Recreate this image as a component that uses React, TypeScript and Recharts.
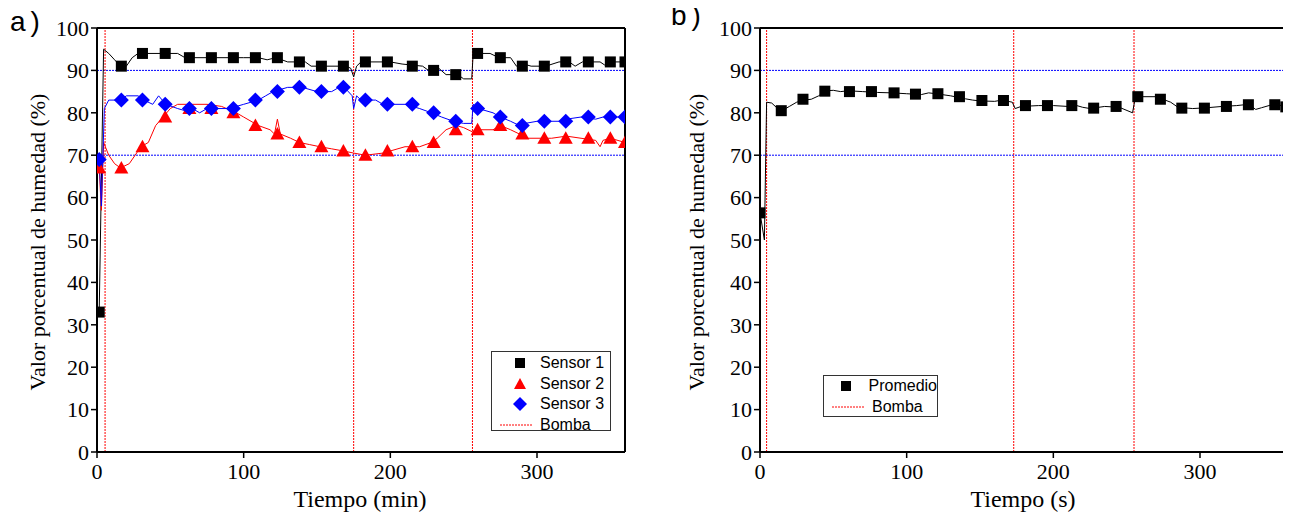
import React from "react";
import { ComposedChart, Line, Scatter, XAxis, YAxis, ReferenceLine } from "recharts";

// ejes
const ticksX = [0, 100, 200, 300];
const ticksY = [0, 10, 20, 30, 40, 50, 60, 70, 80, 90, 100];
const limites = [70, 90];

// encendido de la bomba
const bombaA = [5.5, 175, 256];
const bombaB = [4.5, 173, 255];

// a) marcadores de cada sensor
const tiempoMarcasA = [1.5, 16.6, 31, 46.5, 63, 78, 93, 108, 123, 138, 153, 168, 183, 198, 215, 229.5, 244.6, 259.5, 275, 290, 305, 319.6, 335, 350, 360];
const sensor1Marcas = [33, 91, 94, 94, 93, 93, 93, 93, 93, 92, 91, 91, 92, 92, 91, 90, 89, 94, 93, 91, 91, 92, 92, 92, 92];
const sensor2Marcas = [67, 67, 72, 79, 81, 81, 80, 77, 75, 73, 72, 71, 70, 71, 72, 73, 76, 76, 77, 75, 74, 74, 74, 74, 73];
const sensor3Marcas = [69, 83, 83, 82, 81, 81, 81, 83, 85, 86, 85, 86, 83, 82, 82, 80, 78, 81, 79, 77, 78, 78, 79, 79, 79];

// a) lecturas continuas [t, valor]
const sensor1Linea: [number, number][] = [
  [1.5, 33], [4.5, 95], [8, 94], [12, 92.5], [16, 91], [20, 91], [24, 93], [28, 94], [45, 94], [55, 94],
  [60, 93], [100, 93], [110, 93], [116, 92.5], [122, 93], [130, 92], [142, 92], [146, 91], [170, 91],
  [173, 90.5], [175, 88.5], [177, 91], [180, 92], [200, 92], [208, 91.5], [222, 91], [226, 90], [233, 90.5],
  [238, 89], [246, 89], [250, 88], [255.5, 88], [256.5, 94], [268, 94], [274, 93], [282, 93], [286, 91],
  [291, 91.5], [296, 91], [306, 91], [315, 92], [322, 92], [326, 91], [331, 92], [343, 92], [346, 91.3],
  [350, 92], [360, 92],
];
const sensor2Linea: [number, number][] = [
  [1.5, 67], [3, 57], [4.5, 73], [8, 70], [12, 68], [16, 67], [22, 68], [26, 70], [30, 72], [35, 73],
  [40, 77], [45, 79], [50, 81], [55, 82], [75, 82], [85, 81.5], [95, 80], [100, 79], [105, 78], [110, 77],
  [118, 76], [121, 75], [123, 78.5], [125, 75], [132, 74], [138, 73], [145, 72.5], [152, 72], [160, 71.5],
  [168, 71], [175, 70.5], [183, 70], [195, 70.5], [200, 71], [210, 72], [220, 72], [228, 73], [232, 74],
  [238, 76], [245, 77], [250, 76.5], [256, 75.5], [258, 76], [270, 76], [275, 77], [282, 76], [288, 75],
  [292, 74], [300, 74], [310, 74], [320, 74.5], [330, 74], [340, 73.5], [343, 72], [345, 73.5], [350, 74],
  [360, 73],
];
const sensor3Linea: [number, number][] = [
  [1.5, 69], [3, 58], [5, 81], [8, 83], [16, 83], [20, 84], [28, 84], [32, 83], [38, 82], [42, 84],
  [47, 82], [55, 81], [60, 80.5], [65, 81], [70, 80], [75, 81], [90, 81], [100, 82], [110, 83], [115, 84],
  [120, 85], [130, 86], [140, 86], [150, 85], [160, 85], [165, 86], [170, 85.5], [174, 84], [175, 81],
  [177, 84], [180, 83], [190, 83], [195, 82], [210, 82], [220, 81], [228, 80], [235, 79], [243, 78],
  [250, 77.5], [255.5, 77.5], [256.5, 82], [260, 81], [270, 80], [275, 79], [282, 78], [288, 77],
  [292, 77.5], [300, 78], [315, 78], [320, 78.5], [330, 79], [340, 78.5], [345, 79], [360, 79],
];

// b) promedio
const tiempoMarcasB = [0, 14.5, 29.3, 44.2, 61, 76, 91.4, 106, 121.3, 136, 151.3, 166, 181, 196, 212.6, 227.5, 242.8, 257.6, 273, 287.6, 303, 318, 333, 351, 358.5];
const promedioMarcas = [56.4, 80.5, 83.2, 85.1, 85, 85, 84.7, 84.4, 84.5, 83.8, 82.9, 82.9, 81.7, 81.7, 81.7, 81.1, 81.5, 83.8, 83.2, 81.1, 81.1, 81.5, 81.9, 81.9, 81.4];
const promedioLinea: [number, number][] = [
  [0, 56.4], [3, 50], [4.5, 82.5], [8, 82.3], [12, 81], [15, 80.5], [20, 81.5], [25, 82.5], [30, 83],
  [35, 83.2], [40, 84], [45, 85.2], [50, 85.3], [55, 85], [60, 85.2], [70, 85], [80, 84.8], [90, 84.7],
  [100, 84.5], [110, 84.3], [115, 84.7], [120, 84.5], [130, 84], [140, 83.3], [145, 83], [150, 82.8],
  [160, 82.7], [165, 83], [172, 82.5], [174, 81], [178, 81.5], [190, 81.7], [200, 81.7], [210, 81.5],
  [215, 81.8], [220, 81.3], [225, 81], [235, 81.5], [245, 81.3], [254, 80], [256, 83.8], [270, 83.8],
  [280, 82.5], [285, 81.3], [295, 81], [305, 81.2], [315, 81.5], [325, 81.7], [333, 82], [338, 80.8],
  [342, 81.2], [350, 82], [360, 81.5],
];

const ROJO = "#ff0000";
const AZUL = "#0000ff";
const serif = "'Liberation Serif', 'Times New Roman', serif";
const sans = "'Liberation Sans', Arial, sans-serif";

const puntos = (pares: [number, number][]) => pares.map(([t, v]) => ({ t, v }));
const marcas = (ts: number[], vs: number[]) => ts.map((t, i) => ({ t, v: vs[i] }));

const cuadrado = (p: any) => <rect x={p.cx - 5.5} y={p.cy - 5.5} width={11} height={11} fill="#000" />;
const triangulo = (p: any) => (
  <polygon points={`${p.cx},${p.cy - 7} ${p.cx + 7},${p.cy + 5.5} ${p.cx - 7},${p.cy + 5.5}`} fill={ROJO} />
);
const rombo = (p: any) => (
  <polygon points={`${p.cx},${p.cy - 7.5} ${p.cx + 7.5},${p.cy} ${p.cx},${p.cy + 7.5} ${p.cx - 7.5},${p.cy}`} fill={AZUL} />
);

const tickStyle = { fill: "#000", fontSize: 22, fontFamily: serif };

function Panel({ bomba, children }: { bomba: number[]; children: React.ReactNode }) {
  return (
    <ComposedChart width={645} height={529} margin={{ top: 28, right: 20, bottom: 47, left: 57 }}>
      <XAxis
        dataKey="t"
        type="number"
        domain={[0, 360]}
        ticks={ticksX}
        allowDataOverflow
        height={30}
        tickSize={6}
        tickMargin={5}
        stroke="#000"
        axisLine={{ strokeWidth: 2 }}
        tickLine={{ strokeWidth: 1.5 }}
        tick={tickStyle}
      />
      <XAxis xAxisId="top" orientation="top" mirror type="number" domain={[0, 360]} ticks={ticksX}
        tick={false} tickSize={4} stroke="#000" axisLine={{ strokeWidth: 2 }} />
      <YAxis
        type="number"
        domain={[0, 100]}
        ticks={ticksY}
        allowDataOverflow
        width={40}
        tickSize={6}
        tickMargin={2}
        stroke="#000"
        axisLine={{ strokeWidth: 2 }}
        tickLine={{ strokeWidth: 1.5 }}
        tick={tickStyle}
      />
      <YAxis yAxisId="r" orientation="right" mirror type="number" domain={[0, 100]} ticks={ticksY}
        tick={false} tickSize={4} stroke="#000" axisLine={{ strokeWidth: 2 }} />
      {limites.map((y) => (
        <ReferenceLine key={"h" + y} y={y} stroke={AZUL} strokeDasharray="2 1" strokeWidth={1} />
      ))}
      {bomba.map((x) => (
        <ReferenceLine key={"v" + x} x={x} stroke={ROJO} strokeDasharray="2 1" strokeWidth={1} />
      ))}
      {children}
    </ComposedChart>
  );
}

function TituloY({ x }: { x: number }) {
  return (
    <div style={{ position: "absolute", left: x - 200, top: 242 - 12, width: 400, height: 24, lineHeight: "24px",
      textAlign: "center", transform: "rotate(-90deg)", fontFamily: serif, fontSize: 22 }}>
      Valor porcentual de humedad (%)
    </div>
  );
}

function TituloX({ x, texto }: { x: number; texto: string }) {
  return (
    <div style={{ position: "absolute", left: x - 150, top: 485, width: 300, lineHeight: "28px",
      textAlign: "center", fontFamily: serif, fontSize: 24 }}>
      {texto}
    </div>
  );
}

function FilaLeyenda({ simbolo, texto }: { simbolo: React.ReactNode; texto: string }) {
  return (
    <div style={{ display: "flex", alignItems: "center", height: 20.5 }}>
      <svg width={46} height={20}>{simbolo}</svg>
      <span style={{ marginLeft: 2 }}>{texto}</span>
    </div>
  );
}

const lineaBomba = <line x1={8} x2={40} y1={10} y2={10} stroke={ROJO} strokeDasharray="2 1" />;

export default function App() {
  return (
    <div style={{ position: "relative", width: 1291, height: 529, margin: -8, background: "#fff" }}>
      <div style={{ position: "absolute", left: 0, top: 0 }}>
        <Panel bomba={bombaA}>
          <Line data={puntos(sensor1Linea)} dataKey="v" stroke="#000" strokeWidth={1} dot={false} activeDot={false} isAnimationActive={false} />
          <Line data={puntos(sensor2Linea)} dataKey="v" stroke={ROJO} strokeWidth={1} dot={false} activeDot={false} isAnimationActive={false} />
          <Line data={puntos(sensor3Linea)} dataKey="v" stroke={AZUL} strokeWidth={1} dot={false} activeDot={false} isAnimationActive={false} />
          <Scatter data={marcas(tiempoMarcasA, sensor1Marcas)} dataKey="v" shape={cuadrado} isAnimationActive={false} />
          <Scatter data={marcas(tiempoMarcasA, sensor2Marcas)} dataKey="v" shape={triangulo} isAnimationActive={false} />
          <Scatter data={marcas(tiempoMarcasA, sensor3Marcas)} dataKey="v" shape={rombo} isAnimationActive={false} />
        </Panel>
      </div>
      <div style={{ position: "absolute", left: 663, top: 0 }}>
        <Panel bomba={bombaB}>
          <Line data={puntos(promedioLinea)} dataKey="v" stroke="#000" strokeWidth={1} dot={false} activeDot={false} isAnimationActive={false} />
          <Scatter data={marcas(tiempoMarcasB, promedioMarcas)} dataKey="v" shape={cuadrado} isAnimationActive={false} />
        </Panel>
      </div>

      <div style={{ position: "absolute", left: 10, top: 6, fontFamily: sans, fontSize: 28, letterSpacing: 5 }}>a)</div>
      <div style={{ position: "absolute", left: 671, top: 0, fontFamily: sans, fontSize: 28, letterSpacing: 5 }}>b)</div>

      <TituloY x={38} />
      <TituloY x={697} />
      <TituloX x={360} texto="Tiempo (min)" />
      <TituloX x={1023} texto="Tiempo (s)" />

      <div style={{ position: "absolute", left: 491, top: 351, width: 120, height: 80, border: "1px solid #333",
        fontFamily: sans, fontSize: 16, paddingTop: 1, boxSizing: "border-box" }}>
        <FilaLeyenda simbolo={<rect x={23} y={5} width={10} height={10} fill="#000" />} texto="Sensor 1" />
        <FilaLeyenda simbolo={<polygon points="28,4 34,15 22,15" fill={ROJO} />} texto="Sensor 2" />
        <FilaLeyenda simbolo={<polygon points="28,3 35,10 28,17 21,10" fill={AZUL} />} texto="Sensor 3" />
        <FilaLeyenda simbolo={lineaBomba} texto="Bomba" />
      </div>

      <div style={{ position: "absolute", left: 823, top: 375, width: 115, height: 42, border: "1px solid #333",
        fontFamily: sans, fontSize: 16, boxSizing: "border-box" }}>
        <FilaLeyenda simbolo={<rect x={17} y={5} width={10} height={10} fill="#000" />} texto="Promedio" />
        <FilaLeyenda simbolo={lineaBomba} texto="Bomba" />
      </div>
    </div>
  );
}
